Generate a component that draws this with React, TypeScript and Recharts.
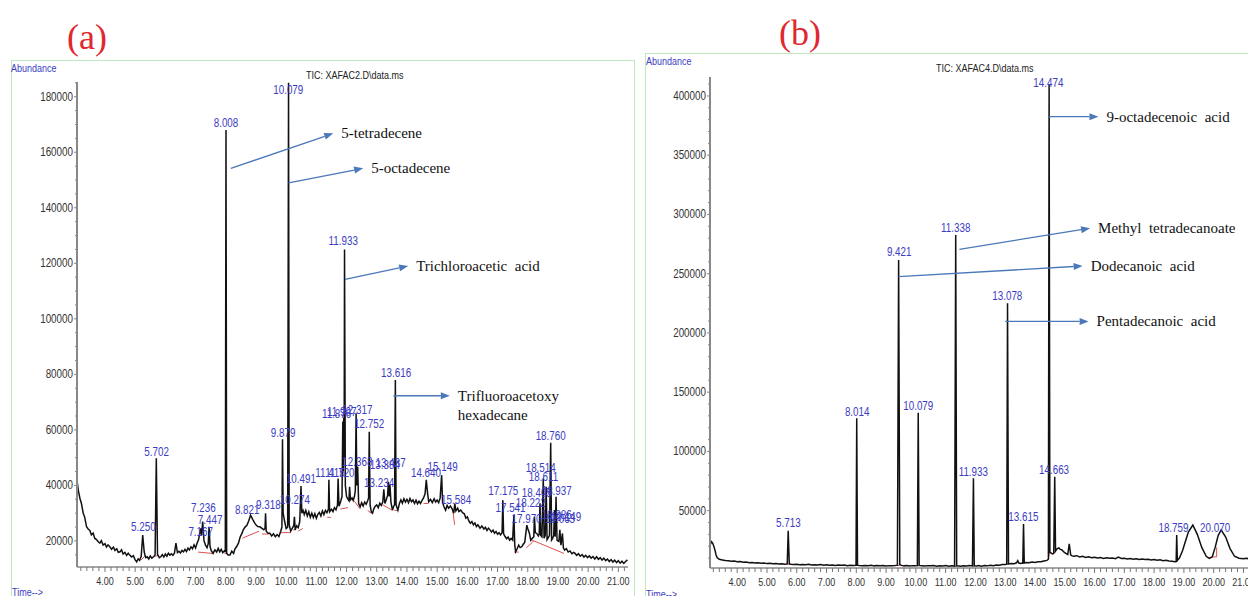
import React from "react";
import { ComposedChart, Line, Scatter, XAxis, YAxis, ReferenceLine } from "recharts";

// ---- panel (a): TIC XAFAC2 ----
// [time (min), abundance]
const traceA: [number, number][] = [
  [3.08, 41300], [3.12, 38000], [3.17, 35400], [3.22, 33500], [3.28, 30000], [3.33, 28500],
  [3.39, 25100], [3.45, 24200], [3.5, 23800], [3.55, 22200], [3.61, 22800], [3.66, 21000],
  [3.72, 20500], [3.77, 19800], [3.83, 19200], [3.88, 20100], [3.94, 18500], [4.0, 19000],
  [4.05, 17800], [4.1, 18600], [4.16, 17900], [4.22, 17000], [4.28, 17800], [4.33, 16600],
  [4.39, 17200], [4.44, 15900], [4.5, 16100], [4.55, 16800], [4.6, 15300], [4.66, 15900],
  [4.72, 14800], [4.77, 15600], [4.82, 14900], [4.88, 14200], [4.94, 14700], [5.0, 13200],
  [5.05, 12500], [5.1, 13600], [5.15, 13000], [5.2, 14500], [5.25, 22100], [5.3, 16000],
  [5.35, 14000], [5.4, 14300], [5.45, 13500], [5.5, 14600], [5.55, 13800], [5.62, 14400],
  [5.66, 15000], [5.7, 49800], [5.74, 15200], [5.8, 14000], [5.85, 14300], [5.9, 15100],
  [5.95, 14200], [6.0, 15300], [6.05, 14500], [6.1, 15600], [6.15, 14900], [6.2, 15400],
  [6.25, 14800], [6.3, 15600], [6.35, 19200], [6.4, 15800], [6.45, 16300], [6.5, 15700],
  [6.55, 16600], [6.6, 16100], [6.65, 17000], [6.7, 16200], [6.75, 17400], [6.8, 16800],
  [6.85, 17900], [6.9, 17200], [6.95, 18600], [7.0, 17500], [7.05, 19200], [7.1, 20500],
  [7.167, 24500], [7.2, 22000], [7.236, 27000], [7.28, 20000], [7.33, 18500], [7.38, 17600],
  [7.42, 19000], [7.447, 25100], [7.48, 18000], [7.52, 16500], [7.58, 15500], [7.64, 16800],
  [7.7, 16000], [7.75, 17300], [7.8, 16100], [7.85, 17000], [7.9, 15800], [7.96, 16500],
  [7.985, 16000], [8.008, 168000], [8.03, 15500], [8.08, 14900], [8.14, 14900], [8.2, 16300],
  [8.26, 15500], [8.3, 17000], [8.36, 18000], [8.42, 19200], [8.48, 21500], [8.54, 22800],
  [8.58, 24000], [8.64, 25000], [8.7, 25600], [8.76, 27200], [8.821, 29300], [8.86, 28500],
  [8.9, 27600], [8.96, 26400], [9.0, 25800], [9.06, 25200], [9.13, 25100], [9.2, 24500],
  [9.26, 24000], [9.3, 24500], [9.318, 30000], [9.34, 23500], [9.4, 22800], [9.46, 22800],
  [9.52, 21800], [9.58, 22600], [9.64, 21500], [9.7, 22300], [9.76, 21600], [9.82, 23500],
  [9.86, 25000], [9.879, 56600], [9.9, 30000], [9.95, 27000], [10.0, 24500], [10.05, 25000],
  [10.079, 185000], [10.1, 26000], [10.15, 23500], [10.2, 24500], [10.25, 25500], [10.274, 28700],
  [10.3, 24000], [10.35, 25500], [10.4, 24800], [10.45, 27000], [10.491, 39800], [10.52, 30000],
  [10.56, 31000], [10.6, 29500], [10.65, 31000], [10.7, 29000], [10.75, 30500], [10.8, 28500],
  [10.85, 30000], [10.9, 28400], [10.95, 29800], [11.0, 28200], [11.05, 29600], [11.1, 30300],
  [11.15, 29000], [11.2, 30800], [11.25, 29500], [11.3, 31000], [11.35, 30200], [11.4, 31500],
  [11.415, 42000], [11.44, 30500], [11.5, 31400], [11.55, 30600], [11.6, 32000], [11.65, 31200],
  [11.7, 33000], [11.72, 42500], [11.75, 32500], [11.8, 34000], [11.85, 36000], [11.876, 63000],
  [11.89, 45000], [11.907, 64300], [11.92, 50000], [11.933, 125000], [11.96, 40000], [12.0, 36000],
  [12.05, 35000], [12.08, 34500], [12.1, 39500], [12.13, 34800], [12.18, 35500], [12.22, 34600],
  [12.26, 36000], [12.29, 38000], [12.317, 66000], [12.34, 40000], [12.368, 46700], [12.4, 33500],
  [12.45, 32300], [12.5, 33800], [12.55, 32600], [12.6, 34000], [12.65, 33200], [12.7, 34500],
  [12.73, 35500], [12.752, 59300], [12.78, 33000], [12.82, 30500], [12.86, 30000], [12.9, 31500],
  [12.95, 32500], [13.0, 33000], [13.05, 32000], [13.1, 33600], [13.15, 32800], [13.2, 34000],
  [13.234, 38600], [13.27, 33500], [13.32, 35000], [13.36, 36500], [13.384, 41300], [13.41, 36000],
  [13.437, 40100], [13.47, 34000], [13.52, 31100], [13.56, 32500], [13.59, 33000], [13.616, 78000],
  [13.64, 33000], [13.7, 31100], [13.75, 33500], [13.8, 34800], [13.85, 33600], [13.9, 35200],
  [13.95, 34000], [14.0, 35000], [14.05, 33800], [14.1, 35300], [14.15, 34100], [14.2, 34800],
  [14.25, 33500], [14.3, 34700], [14.35, 33400], [14.4, 34300], [14.45, 33500], [14.5, 34600],
  [14.55, 35500], [14.6, 37000], [14.64, 42000], [14.68, 37500], [14.72, 34100], [14.78, 35000],
  [14.84, 33800], [14.9, 35200], [14.95, 34000], [15.0, 34700], [15.05, 33800], [15.1, 35500],
  [15.149, 43700], [15.18, 34000], [15.22, 32500], [15.28, 31100], [15.33, 32800], [15.38, 31800],
  [15.44, 32600], [15.5, 31500], [15.55, 30000], [15.584, 33500], [15.62, 30800], [15.68, 31800],
  [15.72, 30600], [15.78, 31100], [15.84, 30200], [15.9, 29800], [15.95, 28200], [16.0, 28700],
  [16.05, 27200], [16.1, 26400], [16.15, 27000], [16.2, 25800], [16.25, 26500], [16.3, 25200],
  [16.35, 25800], [16.42, 24600], [16.48, 25400], [16.55, 24300], [16.6, 24900], [16.65, 23800],
  [16.7, 24600], [16.75, 24000], [16.8, 23200], [16.85, 23900], [16.9, 22800], [16.95, 23400],
  [17.0, 22400], [17.05, 23000], [17.1, 22200], [17.15, 23000], [17.175, 34700], [17.2, 22600],
  [17.25, 21600], [17.3, 20800], [17.35, 21400], [17.4, 20300], [17.45, 20900], [17.5, 20300],
  [17.541, 29300], [17.57, 18500], [17.6, 16100], [17.65, 17200], [17.7, 18500], [17.75, 17600],
  [17.8, 17900], [17.85, 18800], [17.9, 19500], [17.97, 25700], [18.0, 24500], [18.05, 23000],
  [18.1, 20300], [18.15, 21000], [18.2, 21500], [18.222, 28700], [18.25, 23000], [18.3, 22700],
  [18.35, 21800], [18.38, 22500], [18.405, 33600], [18.43, 22000], [18.47, 21500], [18.514, 42600],
  [18.54, 21000], [18.58, 22000], [18.611, 39500], [18.64, 20500], [18.68, 21200], [18.72, 22000],
  [18.76, 55400], [18.79, 20300], [18.82, 20800], [18.86, 22000], [18.886, 31100], [18.91, 21500],
  [18.937, 35900], [18.97, 20300], [19.0, 20000], [19.03, 19800], [19.063, 24000], [19.1, 18500],
  [19.149, 22700], [19.18, 17500], [19.22, 16700], [19.28, 17200], [19.34, 16000], [19.4, 16400],
  [19.46, 15400], [19.52, 15900], [19.56, 15600], [19.62, 14800], [19.68, 15400], [19.74, 14500],
  [19.8, 15100], [19.86, 14200], [19.92, 14800], [19.98, 14000], [20.04, 14600], [20.1, 13800],
  [20.16, 14400], [20.22, 13500], [20.28, 14300], [20.34, 13400], [20.4, 14000], [20.46, 13100],
  [20.52, 13800], [20.58, 12900], [20.64, 13500], [20.7, 12600], [20.76, 13300], [20.82, 12400],
  [20.88, 13100], [20.94, 12200], [21.0, 12900], [21.06, 12000], [21.12, 12700], [21.18, 11900],
  [21.24, 12600], [21.3, 13200],
];

// peak labels: [time, abundance at label, text]
const peaksA: [number, number, string][] = [
  [5.27, 22600, "5.250"], [5.71, 49600, "5.702"], [7.17, 20800, "7.167"], [7.26, 29200, "7.236"],
  [7.48, 25000, "7.447"], [8.71, 28600, "8.821"], [9.41, 30400, "9.318"], [8.008, 168000, "8.008"],
  [9.9, 56300, "9.879"], [10.07, 179900, "10.079"], [10.29, 32200, "10.274"], [10.49, 39800, "10.491"],
  [11.45, 42000, "11.415"], [11.78, 42000, "11.720"], [11.67, 63200, "11.876"], [11.84, 64000, "11.907"],
  [12.36, 64600, "12.317"], [11.89, 125500, "11.933"], [12.36, 46000, "12.368"], [12.75, 59500, "12.752"],
  [13.08, 38200, "13.234"], [13.27, 44800, "13.384"], [13.46, 45700, "13.437"], [13.64, 77900, "13.616"],
  [14.63, 42000, "14.640"], [15.18, 44000, "15.149"], [15.63, 32200, "15.584"], [17.19, 35600, "17.175"],
  [17.43, 29200, "17.541"], [17.96, 25300, "17.970"], [18.1, 31000, "18.222"], [18.3, 34600, "18.405"],
  [18.43, 43600, "18.514"], [18.52, 40400, "18.611"], [18.76, 55300, "18.760"], [18.96, 35600, "18.937"],
  [18.96, 26800, "18.886"], [19.07, 25300, "19.063"], [19.27, 26100, "19.149"],
];

// integration baselines (red): [t1, v1, t2, v2]
const baseA: [number, number, number, number][] = [
  [5.2, 13200, 5.32, 14500], [5.64, 14500, 5.78, 14800], [7.08, 16000, 7.55, 15500],
  [7.96, 15500, 8.05, 15500], [8.55, 21000, 9.1, 23500], [9.2, 22500, 9.45, 22500],
  [9.8, 23000, 10.15, 23000], [10.23, 24000, 10.32, 24000], [10.4, 23500, 10.55, 24500],
  [11.36, 28500, 11.48, 28500], [11.8, 31500, 12.05, 32000], [12.25, 34500, 12.45, 31500],
  [12.7, 31000, 12.82, 30000], [13.2, 33000, 13.52, 31000], [13.58, 31000, 13.7, 31000],
  [14.55, 33500, 14.7, 33500], [15.52, 31000, 15.58, 25800], [17.55, 16000, 17.7, 16000],
  [17.95, 17500, 18.2, 20000], [18.1, 20500, 19.2, 15500],
];

// arrows: [t1, v1, t2, v2, compound]
const notesA: [number, number, number, number, string][] = [
  [8.17, 154200, 11.56, 166800, "5-tetradecene"],
  [10.08, 149000, 12.55, 154200, "5-octadecene"],
  [11.95, 114200, 14.04, 119000, "Trichloroacetic  acid"],
  [13.55, 72300, 15.42, 72300, "Trifluoroacetoxy\nhexadecane"],
];

const yTicksA = [20000, 40000, 60000, 80000, 100000, 120000, 140000, 160000, 180000];

// ---- panel (b): TIC XAFAC4 ----
const traceB: [number, number][] = [
  [3.09, 21000], [3.14, 23800], [3.18, 22500], [3.22, 19600], [3.26, 16000], [3.29, 12600],
  [3.33, 10200], [3.4, 8900], [3.5, 8400], [3.6, 7900], [3.7, 7700], [3.8, 7300], [3.9, 7500],
  [4.0, 6800], [4.1, 7000], [4.2, 6400], [4.3, 6600], [4.4, 6100], [4.5, 6300], [4.6, 5800],
  [4.7, 6000], [4.8, 5600], [4.9, 5800], [5.0, 5300], [5.1, 5500], [5.2, 5100], [5.3, 5300],
  [5.4, 4900], [5.5, 5100], [5.6, 4700], [5.68, 5000], [5.713, 33000], [5.75, 5200], [5.8, 4800],
  [5.9, 4500], [6.0, 4800], [6.1, 4300], [6.2, 4600], [6.3, 4400], [6.4, 4700], [6.5, 4100],
  [6.6, 4400], [6.7, 4200], [6.8, 4500], [6.9, 3900], [7.0, 4300], [7.1, 4000], [7.2, 4200],
  [7.3, 3800], [7.4, 4100], [7.5, 3900], [7.6, 4100], [7.7, 3600], [7.8, 3900], [7.9, 3700],
  [7.99, 3800], [8.014, 128000], [8.04, 4000], [8.1, 3700], [8.2, 3500], [8.3, 3800], [8.4, 3600],
  [8.5, 3900], [8.6, 3400], [8.7, 3700], [8.8, 3500], [8.9, 3800], [9.0, 3300], [9.1, 3600],
  [9.2, 3500], [9.3, 3700], [9.38, 4000], [9.421, 261600], [9.46, 4500], [9.52, 3800], [9.6, 3400],
  [9.7, 3700], [9.8, 3200], [9.9, 3600], [10.0, 3400], [10.05, 3600], [10.079, 132700],
  [10.11, 3800], [10.2, 3500], [10.3, 3200], [10.4, 3600], [10.5, 3400], [10.6, 3700],
  [10.7, 3100], [10.8, 3500], [10.9, 3300], [11.0, 3600], [11.1, 3000], [11.2, 3400],
  [11.3, 3200], [11.338, 282700], [11.37, 3500], [11.45, 3300], [11.5, 3100], [11.6, 3500],
  [11.7, 3200], [11.8, 3600], [11.9, 3300], [11.933, 77300], [11.96, 3500], [12.05, 3300],
  [12.1, 3700], [12.2, 3100], [12.3, 3600], [12.4, 3400], [12.5, 3900], [12.6, 3600],
  [12.7, 4200], [12.8, 4000], [12.9, 4600], [13.0, 4500], [13.05, 4800], [13.078, 225000],
  [13.11, 5000], [13.2, 5400], [13.3, 5200], [13.38, 6000], [13.42, 7800], [13.46, 5800],
  [13.5, 5500], [13.59, 5800], [13.615, 38700], [13.64, 5800], [13.7, 6300], [13.8, 6000],
  [13.9, 6600], [14.0, 6200], [14.1, 6900], [14.2, 6800], [14.3, 7500], [14.4, 8000],
  [14.45, 9000], [14.474, 410000], [14.5, 15000], [14.55, 14000], [14.6, 13500], [14.63, 14000],
  [14.663, 78700], [14.69, 16000], [14.75, 18000], [14.8, 18500], [14.85, 17300], [14.9, 17000],
  [14.95, 15600], [15.0, 14500], [15.05, 13800], [15.1, 13000], [15.15, 22000], [15.2, 12500],
  [15.25, 11800], [15.3, 11500], [15.4, 12000], [15.5, 11000], [15.6, 11500], [15.7, 10500],
  [15.8, 11000], [15.9, 10200], [16.0, 10700], [16.1, 10000], [16.2, 10400], [16.3, 9700],
  [16.4, 10200], [16.5, 9900], [16.6, 10100], [16.7, 9500], [16.8, 10800], [16.9, 9600],
  [17.0, 9900], [17.1, 9200], [17.2, 9600], [17.3, 9000], [17.4, 9400], [17.5, 8700],
  [17.6, 9100], [17.7, 8800], [17.8, 9000], [17.9, 8400], [18.0, 8700], [18.1, 8200],
  [18.2, 8500], [18.3, 7800], [18.4, 8100], [18.5, 7500], [18.6, 7300], [18.7, 6800],
  [18.74, 7000], [18.759, 29500], [18.78, 8000], [18.85, 10000], [18.95, 16000], [19.05, 24000],
  [19.15, 32000], [19.3, 37900], [19.45, 30000], [19.6, 19000], [19.75, 11500], [19.85, 9800],
  [19.95, 11000], [20.05, 19000], [20.15, 29000], [20.25, 33700], [20.4, 28000], [20.55, 18000],
  [20.7, 11500], [20.85, 9800], [21.0, 9500], [21.1, 9900], [21.2, 9200], [21.3, 9000],
];

const peaksB: [number, number, string][] = [
  [5.72, 33400, "5.713"], [8.03, 127600, "8.014"], [9.44, 262100, "9.421"], [10.08, 132400, "10.079"],
  [11.34, 282400, "11.338"], [11.93, 76500, "11.933"], [13.07, 225300, "13.078"], [13.61, 39000, "13.615"],
  [14.45, 404800, "14.474"], [14.64, 78400, "14.663"], [18.65, 29700, "18.759"], [20.05, 29700, "20.070"],
];

const baseB: [number, number, number, number][] = [
  [5.65, 4800, 5.78, 4800], [7.98, 3700, 8.06, 3700], [9.38, 3800, 9.48, 3800],
  [10.04, 3500, 10.12, 3500], [11.3, 3200, 11.38, 3200], [11.9, 3300, 11.97, 3300],
  [13.04, 4700, 13.12, 4700], [13.58, 5700, 13.66, 5700], [14.45, 9000, 14.5, 16000],
  [14.6, 13500, 14.7, 15500], [18.72, 7000, 18.8, 7500], [19.95, 11000, 20.1, 11000],
  [20.1, 11000, 20.1, 19000],
];

const notesB: [number, number, number, number, string][] = [
  [14.474, 382500, 16.13, 382500, "9-octadecenoic  acid"],
  [11.46, 270600, 15.85, 288300, "Methyl  tetradecanoate"],
  [9.42, 247500, 15.6, 256500, "Dodecanoic  acid"],
  [13.0, 209700, 15.8, 209700, "Pentadecanoic  acid"],
];

const yTicksB = [50000, 100000, 150000, 200000, 250000, 300000, 350000, 400000];

const xMajor = [4, 5, 6, 7, 8, 9, 10, 11, 12, 13, 14, 15, 16, 17, 18, 19, 20, 21];

const SANS = "'Liberation Sans', Arial, sans-serif";
const SERIF = "'Liberation Serif', 'Times New Roman', serif";
const BLUE = "#3b3bc4";
const ARROW = "#4a78b8";
const SQUEEZE = 0.82; // the instrument font is a narrow sans

const xTicks: number[] = [];
for (let i = 16; i <= 106; i++) xTicks.push(Math.round(i * 2) / 10);

function makeYTicks(step: number, top: number) {
  const out: number[] = [];
  for (let v = step; v <= top; v += step) out.push(v);
  return out;
}

// narrow text: regular sans squeezed horizontally around its anchor
function NText(props: {
  x: number;
  y: number;
  size: number;
  fill: string;
  anchor?: "start" | "middle" | "end";
  children: React.ReactNode;
}) {
  return (
    <text
      transform={`translate(${props.x} ${props.y}) scale(${SQUEEZE} 1)`}
      textAnchor={props.anchor || "start"}
      fill={props.fill}
      fontSize={props.size}
      fontFamily={SANS}
    >
      {props.children}
    </text>
  );
}

const XTick = (props: any) => {
  const { x, y, payload } = props;
  const v = payload.value;
  const major = xMajor.includes(v);
  return (
    <g>
      <line x1={x} y1={y} x2={x} y2={y + (major ? 5 : 4)} stroke="#777" strokeWidth={1} />
      {major && (
        <NText x={x} y={y + 18} anchor="middle" fill="#333" size={11}>
          {v.toFixed(2)}
        </NText>
      )}
    </g>
  );
};

const makeYTick = (majors: number[]) => (props: any) => {
  const { x, y, payload } = props;
  const major = majors.includes(payload.value);
  return (
    <g>
      <line x1={x - (major ? 3 : 2)} y1={y} x2={x} y2={y} stroke="#888" strokeWidth={1} />
      {major && (
        <NText x={x - 4} y={y + 4} anchor="end" fill="#333" size={12}>
          {payload.value}
        </NText>
      )}
    </g>
  );
};

const PeakLabel = (props: any) => {
  const { cx, cy, payload } = props;
  return (
    <NText x={cx} y={cy - 3} anchor="middle" fill={BLUE} size={12}>
      {payload.text}
    </NText>
  );
};

const arrowShape = (text: string) => (p: any) => {
  const { x1, y1, x2, y2 } = p;
  const a = Math.atan2(y2 - y1, x2 - x1);
  const len = 9;
  const hw = 3.5;
  const bx = x2 - len * Math.cos(a);
  const by = y2 - len * Math.sin(a);
  const pts = `${x2},${y2} ${bx - hw * Math.sin(a)},${by + hw * Math.cos(a)} ${bx + hw * Math.sin(a)},${by - hw * Math.cos(a)}`;
  const lines = text.split("\n");
  return (
    <g>
      <line x1={x1} y1={y1} x2={bx} y2={by} stroke={ARROW} strokeWidth={1.3} />
      <polygon points={pts} fill={ARROW} />
      <text x={x2 + 8} y={y2 + 5} fill="#111" fontSize={15} fontFamily={SERIF} style={{ whiteSpace: "pre" }}>
        {lines.map((l, i) => (
          <tspan key={i} x={x2 + 8} dy={i === 0 ? 0 : 19}>
            {l}
          </tspan>
        ))}
      </text>
    </g>
  );
};

type PanelProps = {
  trace: [number, number][];
  peaks: [number, number, string][];
  base: [number, number, number, number][];
  notes: [number, number, number, number, string][];
  yMajor: number[];
  yMinorStep: number;
  xDomain: [number, number];
  yDomain: [number, number];
  margin: { top: number; right: number; bottom: number; left: number };
  yWidth: number;
  xHeight: number;
};

function Panel(p: PanelProps) {
  const data = p.trace.map(([t, v]) => ({ t, v }));
  const labels = p.peaks.map(([t, v, text]) => ({ t, v, text }));
  const yTicks = makeYTicks(p.yMinorStep, p.yDomain[1]);
  const YTick = makeYTick(p.yMajor);
  return (
    <ComposedChart width={640} height={596} data={data} margin={p.margin}>
      <XAxis
        dataKey="t"
        type="number"
        domain={p.xDomain}
        allowDataOverflow
        ticks={xTicks.filter((t) => t >= p.xDomain[0] && t <= p.xDomain[1])}
        interval={0}
        tickLine={false}
        tickSize={0}
        tickMargin={0}
        tick={<XTick />}
        height={p.xHeight}
        axisLine={{ stroke: "#888", strokeWidth: 1.5 }}
      />
      <YAxis
        type="number"
        domain={p.yDomain}
        allowDataOverflow
        ticks={yTicks.filter((v) => v >= p.yDomain[0])}
        interval={0}
        tickLine={false}
        tickSize={0}
        tickMargin={0}
        tick={<YTick />}
        width={p.yWidth}
        axisLine={{ stroke: "#888", strokeWidth: 2 }}
      />
      {p.base.map(([t1, v1, t2, v2], i) => (
        <ReferenceLine
          key={"b" + i}
          segment={[{ x: t1, y: v1 }, { x: t2, y: v2 }]}
          stroke="#e05050"
          strokeWidth={1}
          ifOverflow="visible"
        />
      ))}
      <Line
        type="linear"
        dataKey="v"
        stroke="#111"
        strokeWidth={1.5}
        dot={false}
        isAnimationActive={false}
      />
      <Scatter data={labels} dataKey="v" shape={<PeakLabel />} isAnimationActive={false} />
      {p.notes.map(([t1, v1, t2, v2, text], i) => (
        <ReferenceLine
          key={"n" + i}
          segment={[{ x: t1, y: v1 }, { x: t2, y: v2 }]}
          ifOverflow="visible"
          shape={arrowShape(text)}
        />
      ))}
    </ComposedChart>
  );
}

export default function App() {
  return (
    <div
      style={{
        position: "fixed",
        left: 0,
        top: 0,
        width: 1248,
        height: 596,
        overflow: "hidden",
        background: "#fff",
      }}
    >
      <div style={{ position: "absolute", left: 11, top: 60, width: 622, height: 600, border: "1px solid #bfe8bf" }} />
      <div style={{ position: "absolute", left: 645, top: 53, width: 700, height: 600, border: "1px solid #bfe8bf" }} />
      <div style={{ position: "absolute", left: 0, top: 0 }}>
        <Panel
          trace={traceA}
          peaks={peaksA}
          base={baseA}
          notes={notesA}
          yMajor={yTicksA}
          yMinorStep={5000}
          xDomain={[3.074, 21.32]}
          yDomain={[10620, 185300]}
          margin={{ top: 82, right: 12, bottom: 0, left: 12 }}
          yWidth={65}
          xHeight={29}
        />
      </div>
      <div style={{ position: "absolute", left: 640, top: 0 }}>
        <Panel
          trace={traceB}
          peaks={peaksB}
          base={baseB}
          notes={notesB}
          yMajor={yTicksB}
          yMinorStep={10000}
          xDomain={[3.087, 21.287]}
          yDomain={[1600, 416000]}
          margin={{ top: 77, right: 28, bottom: 0, left: 4 }}
          yWidth={66}
          xHeight={28}
        />
      </div>
      <svg width={1248} height={596} style={{ position: "absolute", left: 0, top: 0, pointerEvents: "none" }}>
        <text x={87} y={49} textAnchor="middle" fill="#e0282e" fontSize={36} fontFamily={SERIF}>(a)</text>
        <text x={800} y={45} textAnchor="middle" fill="#e0282e" fontSize={36} fontFamily={SERIF}>(b)</text>
        <NText x={11} y={72} fill={BLUE} size={11}>Abundance</NText>
        <NText x={646} y={65} fill={BLUE} size={11}>Abundance</NText>
        <NText x={306} y={79} fill="#222" size={11}>{"TIC: XAFAC2.D\\data.ms"}</NText>
        <NText x={936} y={72} fill="#222" size={11}>{"TIC: XAFAC4.D\\data.ms"}</NText>
        <NText x={12} y={596} fill={BLUE} size={11}>{"Time-->"}</NText>
        <NText x={646} y={598} fill={BLUE} size={11}>{"Time-->"}</NText>
      </svg>
    </div>
  );
}
